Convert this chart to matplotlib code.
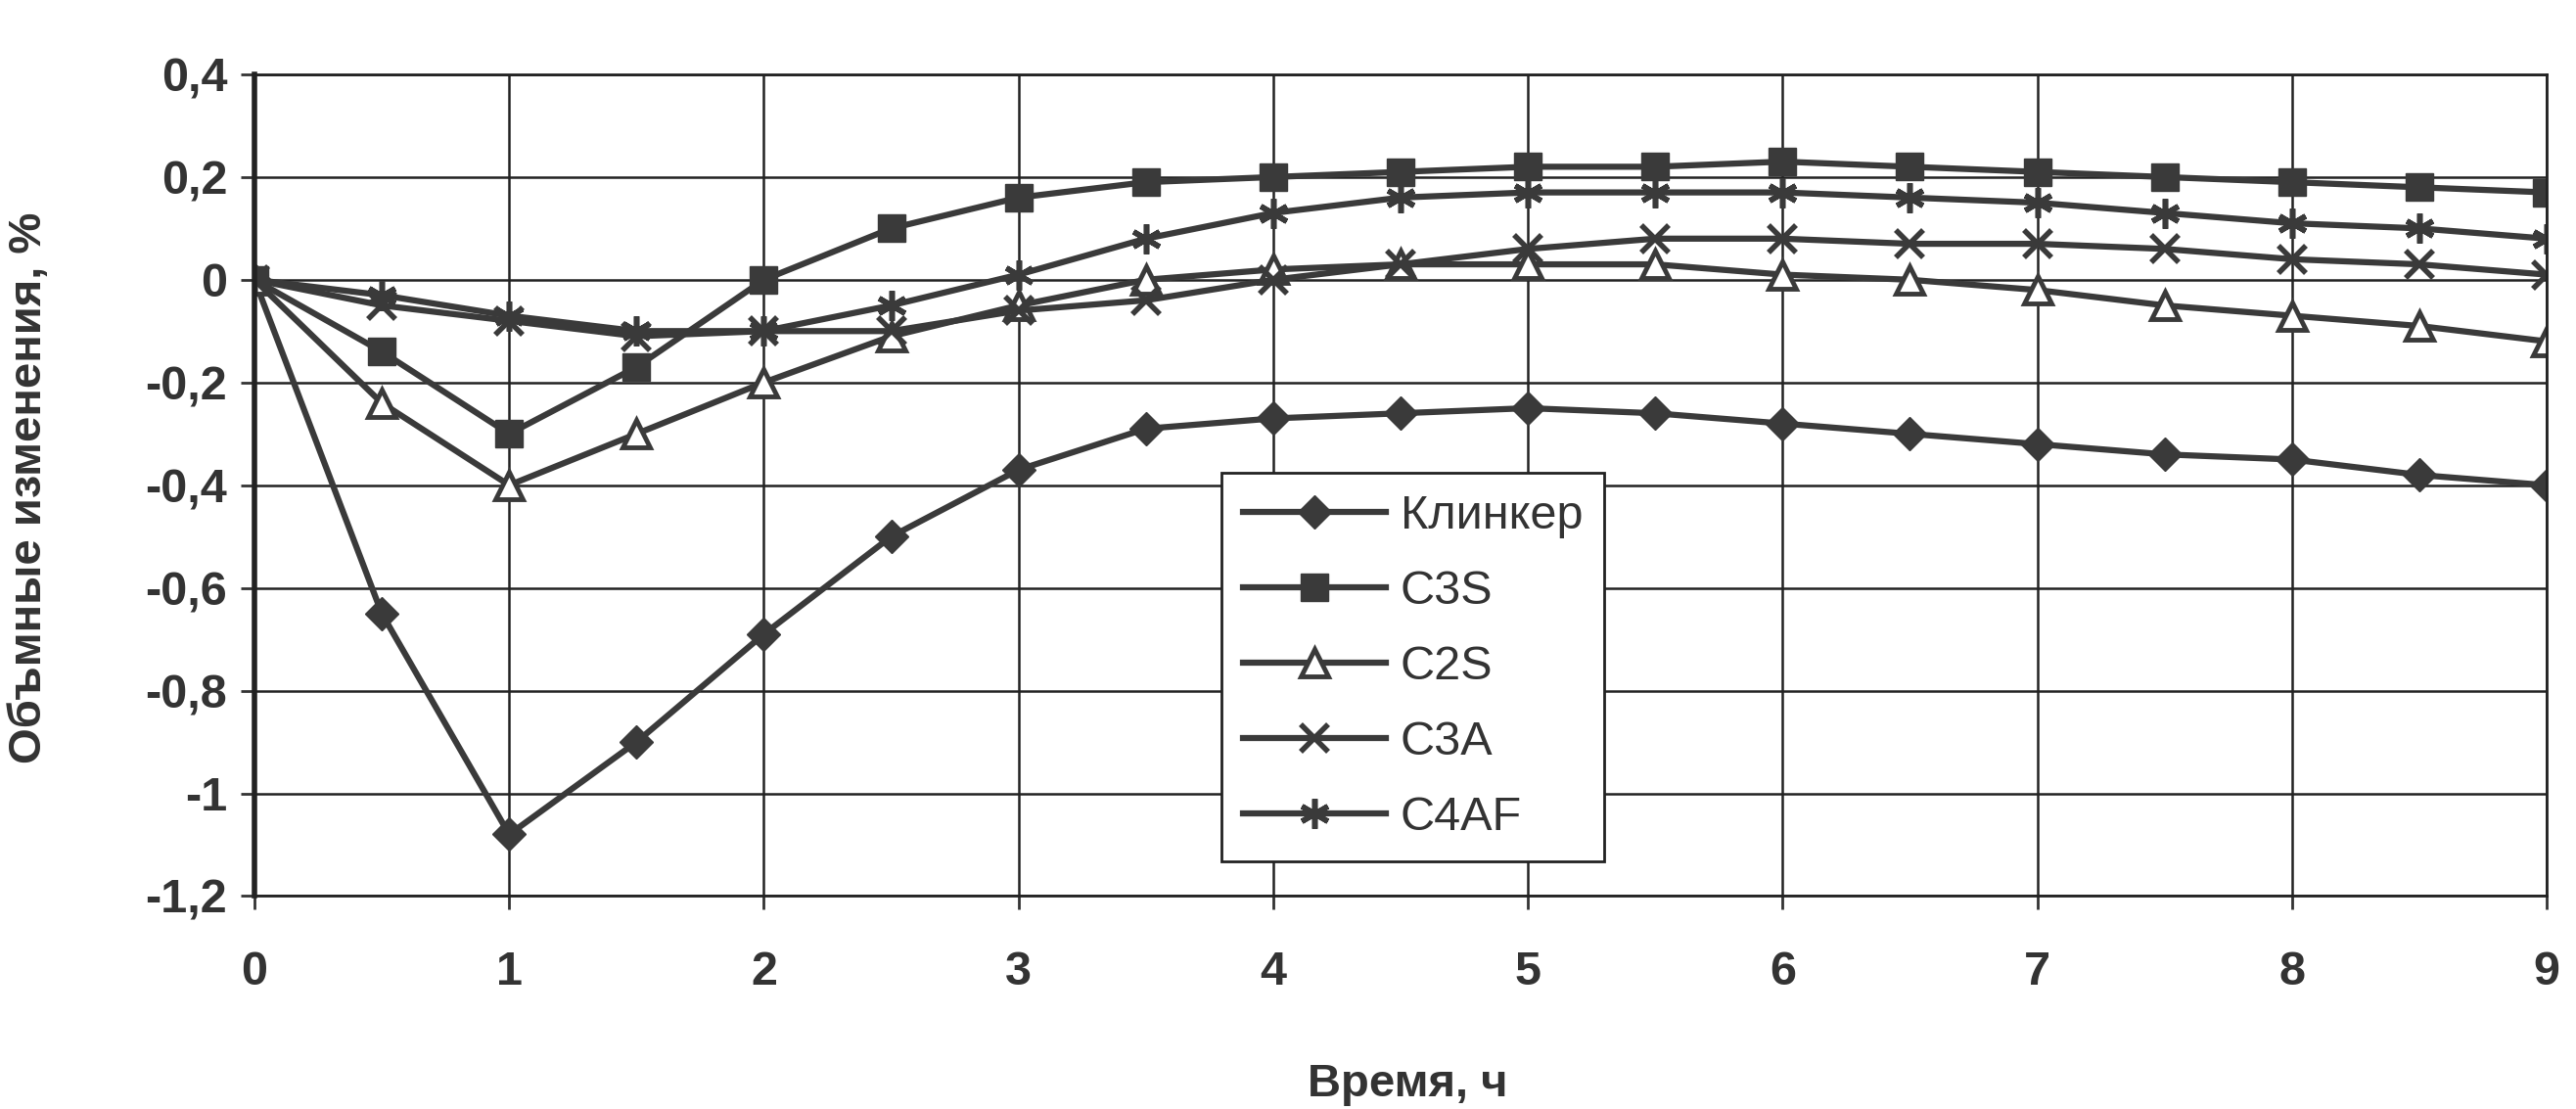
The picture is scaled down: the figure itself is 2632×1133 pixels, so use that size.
import matplotlib
matplotlib.use("Agg")
import matplotlib.pyplot as plt
from matplotlib.ticker import FuncFormatter

plt.rcParams['font.family'] = ['Liberation Sans', 'DejaVu Sans']

time_h = [0, 0.5, 1, 1.5, 2, 2.5, 3, 3.5, 4, 4.5, 5, 5.5, 6, 6.5, 7, 7.5, 8, 8.5, 9]

klinker = [0, -0.65, -1.08, -0.90, -0.69, -0.50, -0.37, -0.29, -0.27, -0.26, -0.25,
           -0.26, -0.28, -0.30, -0.32, -0.34, -0.35, -0.38, -0.40]
c3s = [0, -0.14, -0.30, -0.17, 0.00, 0.10, 0.16, 0.19, 0.20, 0.21, 0.22,
       0.22, 0.23, 0.22, 0.21, 0.20, 0.19, 0.18, 0.17]
c2s = [0, -0.24, -0.40, -0.30, -0.20, -0.11, -0.05, 0.00, 0.02, 0.03, 0.03,
       0.03, 0.01, 0.00, -0.02, -0.05, -0.07, -0.09, -0.12]
c3a = [0, -0.05, -0.08, -0.11, -0.10, -0.10, -0.06, -0.04, 0.00, 0.03, 0.06,
       0.08, 0.08, 0.07, 0.07, 0.06, 0.04, 0.03, 0.01]
c4af = [0, -0.03, -0.07, -0.10, -0.10, -0.05, 0.01, 0.08, 0.13, 0.16, 0.17,
        0.17, 0.17, 0.16, 0.15, 0.13, 0.11, 0.10, 0.08]

labels = ["Клинкер", "C3S", "C2S", "C3A", "C4AF"]
x_ticks = [0, 1, 2, 3, 4, 5, 6, 7, 8, 9]
y_ticks = [0.4, 0.2, 0, -0.2, -0.4, -0.6, -0.8, -1, -1.2]

col = "#3a3a3a"

fig = plt.figure(figsize=(26.32, 11.33), dpi=100)
ax = fig.add_axes([0.0988, 0.192, 0.8898, 0.741])

common = dict(color=col, lw=4.5, markeredgecolor=col)
ax.plot(time_h, klinker, marker='D', ms=17, markerfacecolor=col, label=labels[0], **common)
ax.plot(time_h, c3s, marker='s', ms=20, markerfacecolor=col, label=labels[1], **common)
ax.plot(time_h, c2s, marker='^', ms=20, markerfacecolor='white', markeredgewidth=3.5, label=labels[2], **common)
ax.plot(time_h, c3a, marker='x', ms=20, markeredgewidth=4, label=labels[3], **common)
ax.plot(time_h, c4af, marker=(6, 2, 0), ms=22, markeredgewidth=4, label=labels[4], **common)

ax.set_xlim(0, 9)
ax.set_ylim(-1.2, 0.4)
ax.set_xticks(x_ticks)
ax.set_yticks(y_ticks)

def fmt(v, pos):
    s = ("%.1f" % v).rstrip('0').rstrip('.')
    if s == "-0":
        s = "0"
    return s.replace('.', ',')

ax.yaxis.set_major_formatter(FuncFormatter(fmt))
ax.grid(True, color='#222222', lw=1.8)
ax.set_axisbelow(True)

for s in ['top', 'right', 'bottom']:
    ax.spines[s].set_linewidth(2.0)
    ax.spines[s].set_color('#222222')
ax.spines['left'].set_linewidth(4)
ax.spines['left'].set_color('#222222')

ax.tick_params(axis='x', direction='out', length=10, width=2, pad=30, labelsize=35, colors='#333333')
ax.tick_params(axis='y', direction='out', length=10, width=2, pad=10, labelsize=35, colors='#333333')
for lab in ax.get_xticklabels() + ax.get_yticklabels():
    lab.set_fontweight('bold')

fig.text(0.0114, 0.56, "Объмные изменения, %", rotation=90, ha='center', va='center',
         fontsize=34, fontweight='bold', color='#333333')
fig.text(0.5465, 0.022, "Время, ч", ha='center', va='center',
         fontsize=34, fontweight='bold', color='#333333')

leg = ax.legend(loc='lower left', bbox_to_anchor=(0.422, 0.042), borderaxespad=0,
                fontsize=35, handlelength=3.0, labelspacing=0.66, handletextpad=0.3,
                borderpad=0.45, fancybox=False, framealpha=1, edgecolor='#222222')
leg.get_frame().set_linewidth(2.0)
for t in leg.get_texts():
    t.set_color('#333333')

fig.savefig("out.png", dpi=100, facecolor='white')
